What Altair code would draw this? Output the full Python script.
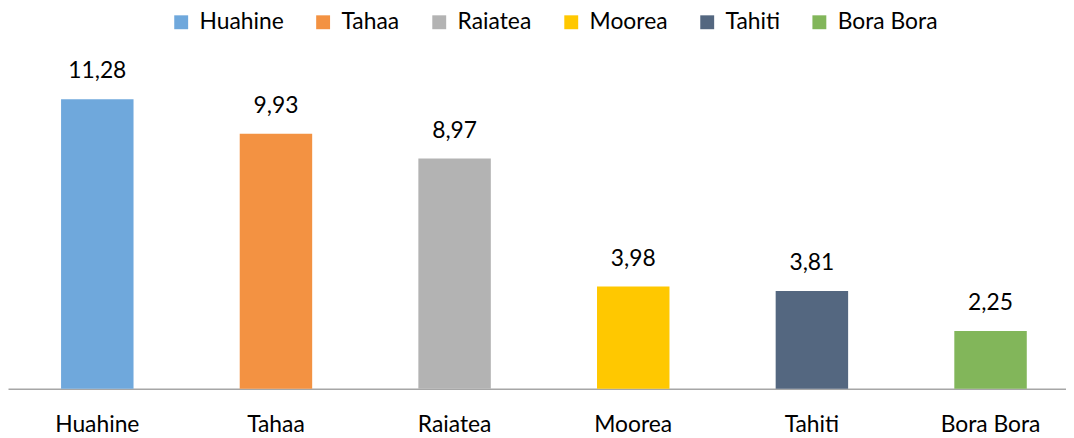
import altair as alt
import pandas as pd

islands = ["Huahine", "Tahaa", "Raiatea", "Moorea", "Tahiti", "Bora Bora"]
values = [11.28, 9.93, 8.97, 3.98, 3.81, 2.25]
colors = ["#6FA8DC", "#F39242", "#B3B3B3", "#FFC800", "#546780", "#82B65A"]

df = pd.DataFrame({
    "island": islands,
    "value": values,
    "label": [f"{v:.2f}".replace(".", ",") for v in values],
})

FONT = "Lato"
FS = 23

x = alt.X(
    "island:N",
    sort=islands,
    scale=alt.Scale(paddingInner=0.5944, paddingOuter=0.2583, align=0.575, round=False),
    axis=alt.Axis(
        title=None, labelAngle=0, ticks=False, labelFontSize=FS, labelFont=FONT,
        labelColor="#000000", labelPadding=25, domainColor="#A6A6A6", domainWidth=1.5,
        grid=False,
    ),
)
y = alt.Y("value:Q", scale=alt.Scale(domain=[0, 14.77], nice=False), axis=None)

bars = alt.Chart(df).mark_bar().encode(
    x=x,
    y=y,
    color=alt.Color(
        "island:N",
        sort=islands,
        scale=alt.Scale(domain=islands, range=colors),
        legend=alt.Legend(
            title=None, orient="none", direction="horizontal", legendX=163, legendY=1,
            symbolType="square", symbolSize=196, symbolStrokeWidth=0,
            labelFontSize=FS, labelFont=FONT, labelColor="#000000",
            labelOffset=7, columnPadding=28, columns=6,
        ),
    ),
)

labels = alt.Chart(df).mark_text(
    fontSize=FS, font=FONT, color="#000000", baseline="alphabetic", dy=-21
).encode(x=x, y=y, text="label:N")

chart = (bars + labels).properties(
    width=1066,
    height=382,
    padding={"left": 0, "top": 0, "right": 0, "bottom": 48},
    autosize=alt.AutoSizeParams(type="none"),
).configure_view(stroke=None)

chart.save("out.html", embed_options={"renderer": "svg", "actions": False})
